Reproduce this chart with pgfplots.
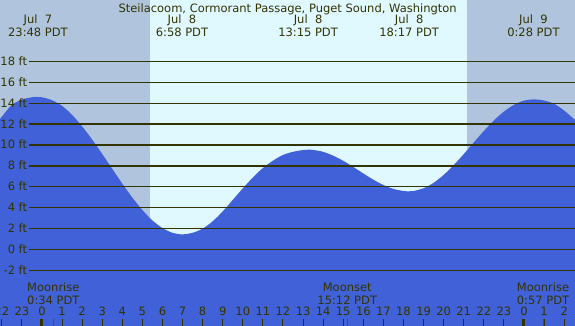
\documentclass[border=0pt]{standalone}
\usepackage{pgfplots}
\pgfplotsset{compat=1.18}
\usepackage{pgfplotstable}
\usepackage{fontspec}
\setmainfont{DejaVu Sans}
\definecolor{night}{HTML}{B0C4DE}
\definecolor{day}{HTML}{E0F8FF}
\definecolor{tide}{HTML}{4161D8}
\definecolor{ink}{HTML}{333300}
\tikzset{lab/.style={text=ink, inner sep=0pt, outer sep=0pt, font=\fontsize{11.5}{13}\selectfont}}

\pgfplotstableread{
t h
-2.09 12.50
-1.75 13.30
-1.50 13.85
-1.00 14.35
-0.50 14.57
-0.20 14.60
0.00 14.57
0.50 14.29
1.00 13.75
1.50 12.88
2.00 11.78
2.50 10.52
3.00 9.14
3.50 7.72
4.00 6.30
4.50 4.97
5.00 3.78
5.50 2.78
6.00 2.05
6.50 1.60
6.97 1.45
7.50 1.60
8.00 2.00
8.50 2.70
9.00 3.65
9.50 4.75
10.00 5.85
10.50 6.90
11.00 7.80
11.50 8.50
12.00 9.05
12.50 9.35
13.00 9.52
13.25 9.55
13.50 9.53
14.00 9.35
14.50 8.98
15.00 8.49
15.50 7.90
16.00 7.28
16.50 6.68
17.00 6.17
17.50 5.80
18.00 5.60
18.28 5.57
18.50 5.60
19.00 5.86
19.50 6.38
20.00 7.14
20.50 8.08
21.00 9.13
21.50 10.25
22.00 11.34
22.50 12.35
23.00 13.20
23.50 13.85
24.00 14.25
24.47 14.37
25.00 14.26
25.50 13.94
26.00 13.30
26.54 12.40
}\tidedata

\begin{document}
\fontsize{11.5}{13}\selectfont
\begin{tikzpicture}
\useasboundingbox (0,0) rectangle (575pt,326pt);
\clip (0,0) rectangle (575pt,326pt);
\begin{axis}[at={(0,0)}, anchor=south west, scale only axis,
  width=575pt, height=326pt,
  xmin=-2.09, xmax=26.54, ymin=-7.32, ymax=23.88,
  axis lines=none, clip=false]
% backgrounds
\addplot[fill=night, draw=none] coordinates {(-2.2,-8) (-2.2,24) (5.38,24) (5.38,-8)} -- cycle;
\addplot[fill=day, draw=none] coordinates {(5.38,-8) (5.38,24) (21.17,24) (21.17,-8)} -- cycle;
\addplot[fill=night, draw=none] coordinates {(21.17,-8) (21.17,24) (26.7,24) (26.7,-8)} -- cycle;
% tide
\addplot[fill=tide, draw=none, smooth, tension=0.5] table[x=t, y=h] {\tidedata} \closedcycle;
\addplot[fill=tide, draw=none] coordinates {(-2.2,0.02) (26.7,0.02) (26.7,-8) (-2.2,-8)} -- cycle;
% grid lines and labels
\pgfplotsinvokeforeach{-2,0,2,4,6,8,10,12,14,16,18}{
  \addplot[ink, line width=1.3pt] coordinates {(-0.65,#1) (26.7,#1)};
  \node[lab, anchor=base east] at (axis cs:-0.74,#1-0.38) {#1 ft};
}
% hour ticks
\pgfplotsinvokeforeach{-2,-1,...,26}{
  \addplot[ink, line width=1pt] coordinates {(#1,-6.65) (#1,-7.5)};
  \node[lab, anchor=base] at (axis cs:#1,-6.36) {\pgfmathparse{int(mod(#1+24,24))}\pgfmathresult};
}
\addplot[ink, line width=3pt] coordinates {(0,-6.65) (0,-7.5)};
\addplot[ink, line width=3pt] coordinates {(24,-6.65) (24,-7.5)};
\addplot[red, line width=1pt] coordinates {(0.567,-6.65) (0.567,-7.5)};
\addplot[red, line width=1pt] coordinates {(15.2,-6.65) (15.2,-7.5)};
\addplot[red, line width=1pt] coordinates {(24.95,-6.65) (24.95,-7.5)};
% moon labels
\node[lab, anchor=base] at (axis cs:0.567,-4.04) {Moonrise};
\node[lab, anchor=base] at (axis cs:0.567,-5.22) {0:34 PDT};
\node[lab, anchor=base] at (axis cs:15.2,-4.04) {Moonset};
\node[lab, anchor=base] at (axis cs:15.2,-5.22) {15:12 PDT};
\node[lab, anchor=base] at (axis cs:24.95,-4.04) {Moonrise};
\node[lab, anchor=base] at (axis cs:24.95,-5.22) {0:57 PDT};
% top labels
\node[lab, anchor=base] at (axis cs:12.23,22.73) {Steilacoom, Cormorant Passage, Puget Sound, Washington};
\node[lab, anchor=base] at (axis cs:-0.2,21.63) {Jul~~7};
\node[lab, anchor=base] at (axis cs:-0.2,20.43) {23:48 PDT};
\node[lab, anchor=base] at (axis cs:6.97,21.63) {Jul~~8};
\node[lab, anchor=base] at (axis cs:6.97,20.43) {6:58 PDT};
\node[lab, anchor=base] at (axis cs:13.25,21.63) {Jul~~8};
\node[lab, anchor=base] at (axis cs:13.25,20.43) {13:15 PDT};
\node[lab, anchor=base] at (axis cs:18.28,21.63) {Jul~~8};
\node[lab, anchor=base] at (axis cs:18.28,20.43) {18:17 PDT};
\node[lab, anchor=base] at (axis cs:24.47,21.63) {Jul~~9};
\node[lab, anchor=base] at (axis cs:24.47,20.43) {0:28 PDT};
\end{axis}
\end{tikzpicture}
\end{document}
